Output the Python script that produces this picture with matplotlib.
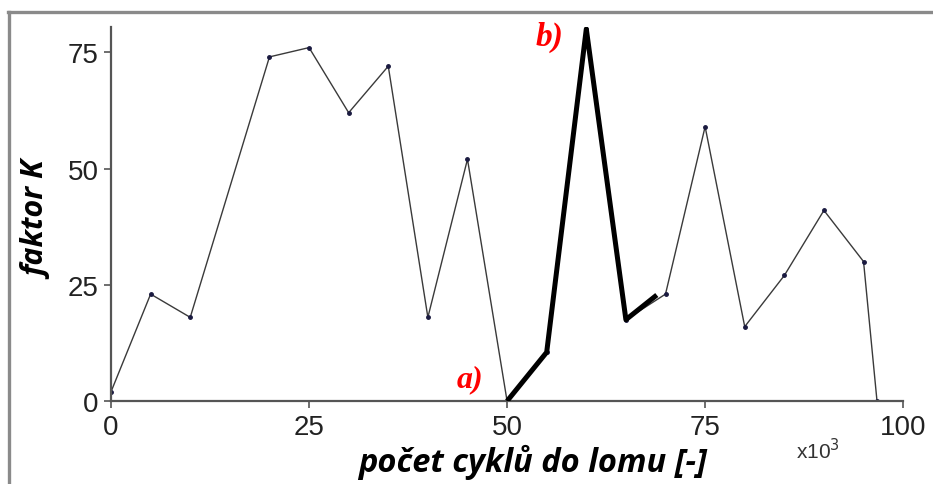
import matplotlib.pyplot as plt
from matplotlib.lines import Line2D

# pocet cyklu (x1000) a faktor K
cykly = [0, 5, 10, 20, 25, 30, 35, 40, 45, 50, 55, 60, 65, 70, 75, 80, 85, 90, 95, 96.7]
faktor_k = [2, 23, 18, 74, 76, 62, 72, 18, 52, 0, 10.5, 80, 17.5, 23, 59, 16, 27, 41, 30, 0]

# zvyraznena cast (tlusta cara)
cykly_zvyr = [50, 55, 60, 65, 68.9]
faktor_zvyr = [0, 10.5, 80, 17.5, 22.8]

x_ticks = [0, 25, 50, 75, 100]
y_ticks = [0, 25, 50, 75]

fig = plt.figure(figsize=(9.33, 4.85), dpi=100)
ax = fig.add_axes([0.119, 0.171, 0.849, 0.771])

ax.plot(cykly, faktor_k, color='#3a3a3a', lw=1.0, marker='o', ms=2.5,
        mfc='#1a1a40', mec='#1a1a40', zorder=2)
ax.plot(cykly_zvyr, faktor_zvyr, color='black', lw=3.6, solid_capstyle='butt', zorder=3)

ax.set_xlim(0, 100)
ax.set_ylim(0, 80.4)
ax.set_xticks(x_ticks)
ax.set_yticks(y_ticks)
for sp in ['top', 'right']:
    ax.spines[sp].set_visible(False)
for sp in ['left', 'bottom']:
    ax.spines[sp].set_color('#555555')
    ax.spines[sp].set_linewidth(1.6)
ax.tick_params(direction='out', length=5, width=1.2, color='#555555',
               labelsize=20, labelcolor='#222222', pad=4)
for lab in ax.get_xticklabels() + ax.get_yticklabels():
    lab.set_family(['Liberation Sans', 'DejaVu Sans'])

# popisky os
fig.text(0.041, 0.546, 'faktor K', rotation=90, ha='center', va='center',
         fontsize=22, fontweight='bold', fontstyle='italic', family='Open Sans')
fig.text(0.571, 0.047, 'počet cyklů do lomu [-]', ha='center', va='center',
         fontsize=23.5, fontweight='bold', fontstyle='italic', family='Open Sans')
fig.text(0.877, 0.07, r'x10$^3$', ha='center', va='center', fontsize=15,
         color='#333333', family='Liberation Sans')

# oznaceni a), b)
ax.text(45.3, 4.7, 'a)', color='red', fontsize=23, fontweight='bold', fontstyle='italic',
        family='Liberation Serif', ha='center', va='center')
ax.text(55.4, 78.4, 'b)', color='red', fontsize=24, fontweight='bold', fontstyle='italic',
        family='Liberation Serif', ha='center', va='center')

# sedy ramecek
fig.add_artist(Line2D([0.009, 1.0], [0.973, 0.973], transform=fig.transFigure,
                      color='#8a8a8a', lw=2.4))
fig.add_artist(Line2D([0.0096, 0.0096], [0.0, 0.973], transform=fig.transFigure,
                      color='#8a8a8a', lw=2.4))

fig.savefig('out.png', dpi=100)
